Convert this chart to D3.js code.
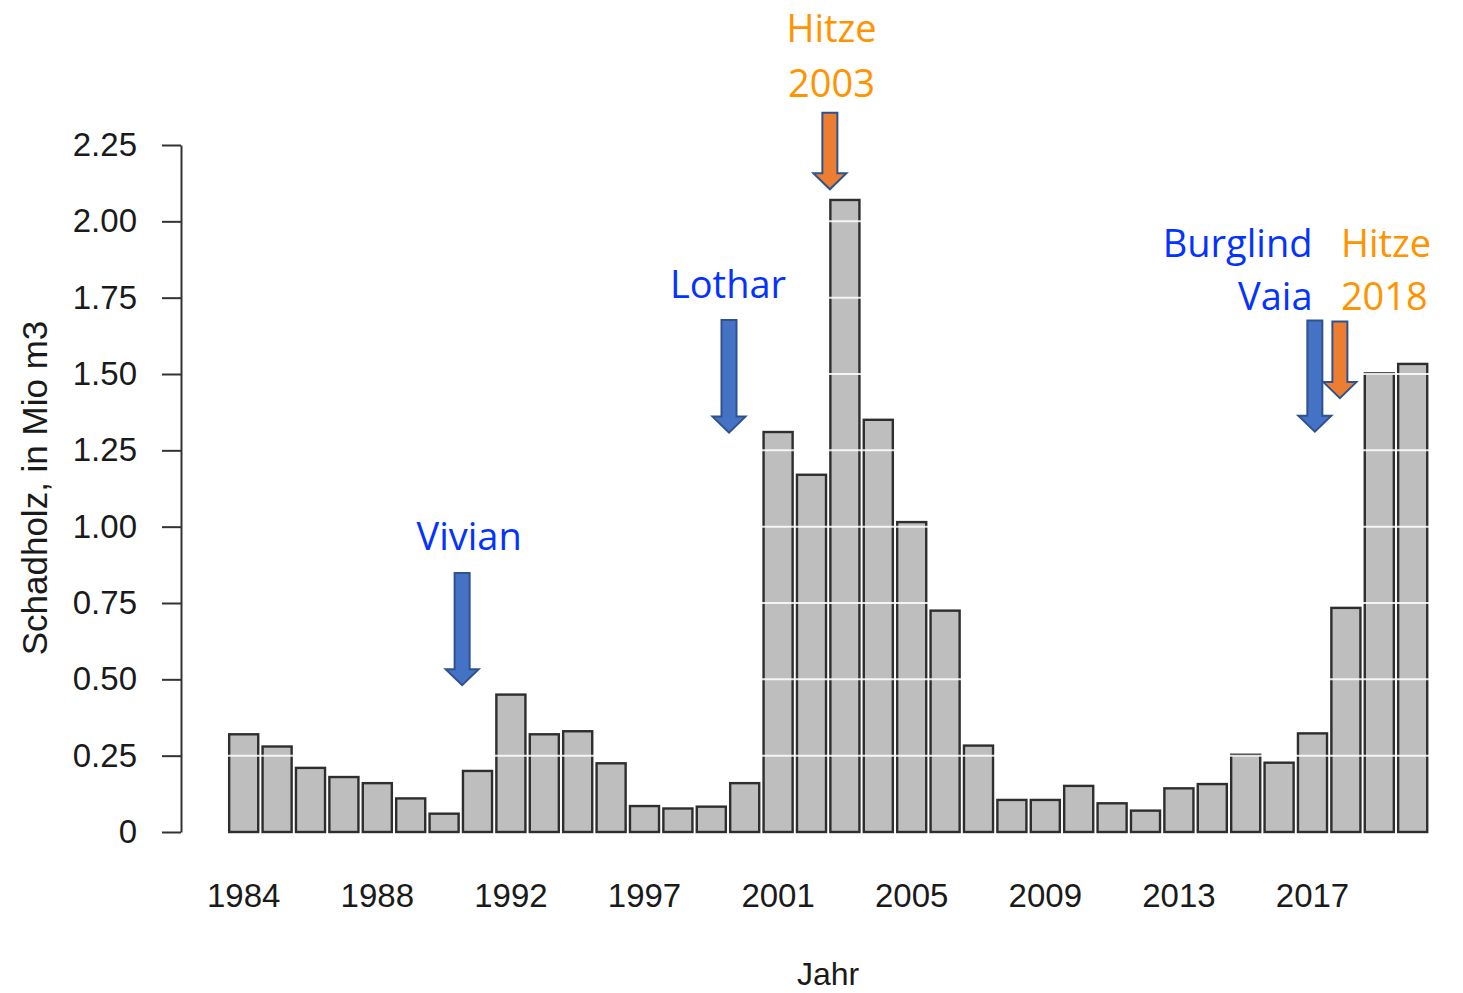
<!DOCTYPE html>
<html>
<head>
	<title>Schadholz</title>
	<meta charset="utf-8">
	<script src="https://d3js.org/d3.v7.min.js"></script>
	<style>
		body { margin: 0; background: #fff; }
		svg { display: block; }
	</style>
</head>
<body>

	<script type="text/javascript">

		// years as labelled in the original plot (1996 is not in the series)
		var years = [1984, 1985, 1986, 1987, 1988, 1989, 1990, 1991, 1992, 1993, 1994, 1995,
			1997, 1998, 1999, 2000, 2001, 2002, 2003, 2004, 2005, 2006, 2007, 2008,
			2009, 2010, 2011, 2012, 2013, 2014, 2015, 2016, 2017, 2018, 2019, 2020]

		// Schadholz in Mio m3
		var values = [0.32, 0.28, 0.21, 0.18, 0.16, 0.11, 0.06, 0.20, 0.45, 0.32, 0.33, 0.225,
			0.085, 0.077, 0.083, 0.16, 1.31, 1.17, 2.07, 1.35, 1.015, 0.725, 0.283, 0.105,
			0.105, 0.151, 0.094, 0.07, 0.143, 0.157, 0.253, 0.227, 0.323, 0.734, 1.502, 1.533]

		// only every fourth bar gets a label
		var xTickYears = [1984, 1988, 1992, 1997, 2001, 2005, 2009, 2013, 2017]
		var yTicks = [0, 0.25, 0.5, 0.75, 1, 1.25, 1.5, 1.75, 2, 2.25]

		// events: x in bar positions (0 = first bar), y in Mio m3
		var eventArrows = [
			{ x: 6.54, top: 0.848, tip: 0.481, color: "#4472c4" },   // Vivian
			{ x: 14.53, top: 1.677, tip: 1.308, color: "#4472c4" },  // Lothar
			{ x: 17.55, top: 2.356, tip: 2.105, color: "#ed7d31" },  // Hitze 2003
			{ x: 32.07, top: 1.675, tip: 1.311, color: "#4472c4" },  // Burglind / Vaia
			{ x: 32.82, top: 1.672, tip: 1.421, color: "#ed7d31" }   // Hitze 2018
		]
		var eventLabels = [
			{ text: "Vivian", x: 6.75, y: 0.925, anchor: "middle", color: "#0433ff" },
			{ text: "Lothar", x: 14.5, y: 1.75, anchor: "middle", color: "#0433ff" },
			{ text: "Hitze", x: 17.6, y: 2.587, anchor: "middle", color: "#ff9300" },
			{ text: "2003", x: 17.6, y: 2.407, anchor: "middle", color: "#ff9300" },
			{ text: "Burglind", x: 32.0, y: 1.884, anchor: "end", color: "#0433ff" },
			{ text: "Vaia", x: 32.0, y: 1.71, anchor: "end", color: "#0433ff" },
			{ text: "Hitze", x: 32.85, y: 1.884, anchor: "start", color: "#ff9300" },
			{ text: "2018", x: 32.85, y: 1.71, anchor: "start", color: "#ff9300" }
		]

		var width = 1463, height = 993

		var svg = d3.select("body").append("svg")
			.attr("width", width)
			.attr("height", height)

		var x = d3.scaleBand()
			.domain(years)
			.range([227, 227 + years.length * 33.4])
			.paddingInner(0.13)
			.paddingOuter(0.065)

		var y = d3.scaleLinear()
			.domain([0, 2.25])
			.range([832, 145])

		// bar index -> pixel (centre of bar)
		var xPos = d3.scaleLinear()
			.domain([0, years.length - 1])
			.range([x(years[0]) + x.bandwidth() / 2, x(years[years.length - 1]) + x.bandwidth() / 2])

		// bars
		svg.selectAll("rect.bar")
			.data(values)
			.enter()
			.append("rect")
			.attr("class", "bar")
			.attr("x", function (d, i) { return x(years[i]) })
			.attr("y", function (d) { return y(d) })
			.attr("width", x.bandwidth())
			.attr("height", function (d) { return y(0) - y(d) })
			.attr("fill", "#bebebe")
			.attr("stroke", "#2e2e2e")
			.attr("stroke-width", 2.4)

		// white grid lines, only visible on the bars
		svg.selectAll("line.grid")
			.data(yTicks.filter(function (d) { return d > 0 && d < 2.25 }))
			.enter()
			.append("line")
			.attr("class", "grid")
			.attr("x1", x.range()[0])
			.attr("x2", x.range()[1])
			.attr("y1", function (d) { return y(d) })
			.attr("y2", function (d) { return y(d) })
			.attr("stroke", "#fff")
			.attr("stroke-opacity", 0.85)
			.attr("stroke-width", 2)

		// y axis
		var yAxis = d3.axisLeft(y)
			.tickValues(yTicks)
			.tickSize(19)
			.tickSizeOuter(0)
			.tickPadding(25)
			.tickFormat(function (d) { return d === 0 ? "0" : d3.format(".2f")(d) })

		var gy = svg.append("g")
			.attr("transform", "translate(181,0)")
			.call(yAxis)
		gy.select(".domain").attr("stroke", "#333").attr("stroke-width", 2)
		gy.selectAll(".tick line").attr("stroke", "#333").attr("stroke-width", 2)
		gy.selectAll(".tick text")
			.attr("fill", "#1a1a1a")
			.style("font-family", "'Liberation Sans', Arial, sans-serif")
			.style("font-size", "33px")

		// x labels
		svg.selectAll("text.xlab")
			.data(xTickYears)
			.enter()
			.append("text")
			.attr("class", "xlab")
			.attr("x", function (d) { return x(d) + x.bandwidth() / 2 })
			.attr("y", 907)
			.attr("text-anchor", "middle")
			.attr("fill", "#1a1a1a")
			.style("font-family", "'Liberation Sans', Arial, sans-serif")
			.style("font-size", "33px")
			.text(function (d) { return d })

		// axis titles
		svg.append("text")
			.attr("x", 828)
			.attr("y", 985)
			.attr("text-anchor", "middle")
			.attr("fill", "#1a1a1a")
			.style("font-family", "'Liberation Sans', Arial, sans-serif")
			.style("font-size", "32px")
			.text("Jahr")

		svg.append("text")
			.attr("transform", "translate(47,488) rotate(-90)")
			.attr("text-anchor", "middle")
			.attr("fill", "#1a1a1a")
			.style("font-family", "'Liberation Sans', Arial, sans-serif")
			.style("font-size", "35px")
			.text("Schadholz, in Mio m3")

		// block arrows
		var shaftW = 15, headW = 33, headH = 16
		svg.selectAll("path.arrow")
			.data(eventArrows)
			.enter()
			.append("path")
			.attr("class", "arrow")
			.attr("d", function (d) {
				var cx = xPos(d.x), t = y(d.top), p = y(d.tip), h = p - headH
				return "M" + (cx - shaftW / 2) + "," + t +
					"L" + (cx + shaftW / 2) + "," + t +
					"L" + (cx + shaftW / 2) + "," + h +
					"L" + (cx + headW / 2) + "," + h +
					"L" + cx + "," + p +
					"L" + (cx - headW / 2) + "," + h +
					"L" + (cx - shaftW / 2) + "," + h + "Z"
			})
			.attr("fill", function (d) { return d.color })
			.attr("stroke", "#2f528f")
			.attr("stroke-width", 2)
			.attr("stroke-linejoin", "miter")

		// event labels
		svg.selectAll("text.event")
			.data(eventLabels)
			.enter()
			.append("text")
			.attr("class", "event")
			.attr("x", function (d) { return xPos(d.x) })
			.attr("y", function (d) { return y(d.y) })
			.attr("text-anchor", function (d) { return d.anchor })
			.attr("fill", function (d) { return d.color })
			.style("font-family", "'Open Sans', 'Noto Sans', sans-serif")
			.style("font-size", "38px")
			.text(function (d) { return d.text })

	</script>

</body>
</html>
